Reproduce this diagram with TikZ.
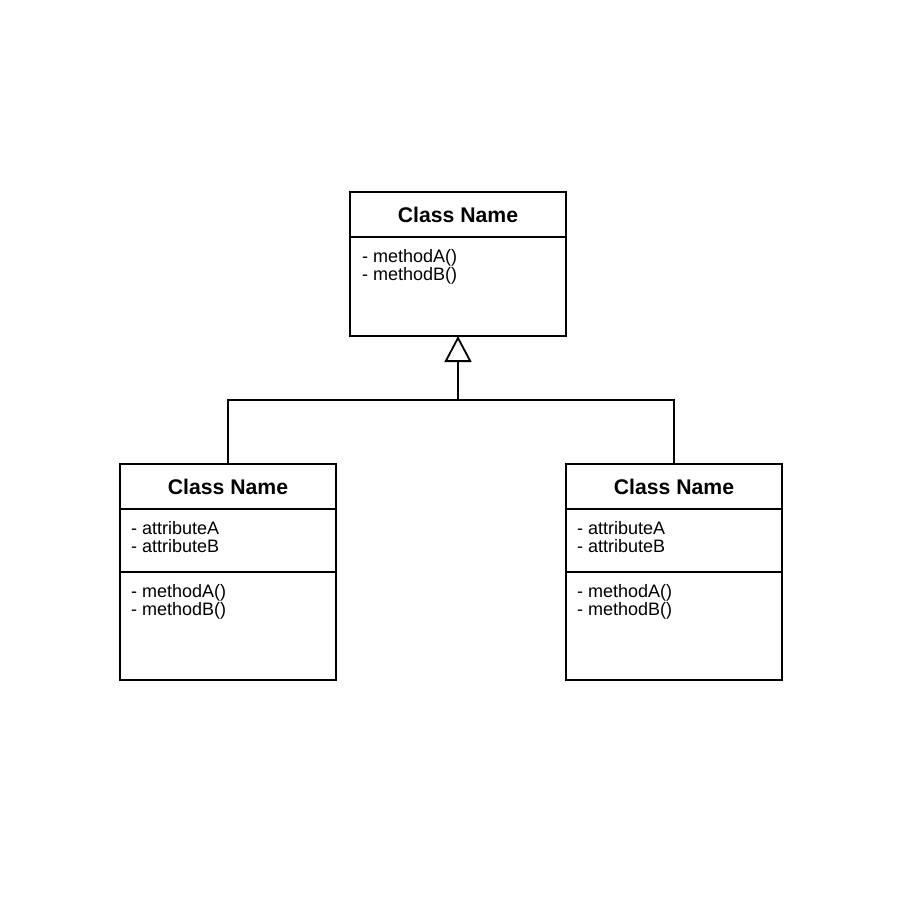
\documentclass[tikz,border=0pt]{standalone}
\usepackage{fontspec}
\setmainfont{Liberation Sans}
\usetikzlibrary{arrows.meta}
\begin{document}
\begin{tikzpicture}[x=1pt,y=-1pt,
  box/.style={draw=black,line width=1.8pt},
  title/.style={font=\fontsize{21.2}{24}\selectfont\bfseries,inner sep=0pt},
  members/.style={font=\fontsize{18}{18}\selectfont,align=left,anchor=north west,inner sep=0pt},
  link/.style={draw=black,line width=1.8pt},
  inherit/.style={link,-{Triangle[open,length=26pt,width=27pt,line width=1.8pt,fill=white]}}]
\useasboundingbox[fill=white] (0,0) rectangle (900,900);

% parent class
\draw[box] (350,192) rectangle (566,336);
\draw[box] (350,237) -- (566,237);
\node[title] (ptitle) at (458,215) {Class Name};
\node[members] (pmeth) at (362,249.5) {- methodA()\\- methodB()};
\coordinate (parent) at (458,336);

% left child
\draw[box] (120,464) rectangle (336,680);
\draw[box] (120,509) -- (336,509);
\draw[box] (120,572) -- (336,572);
\node[title] (ltitle) at (228,487) {Class Name};
\node[members] (lattr) at (131,521.5) {- attributeA\\- attributeB};
\node[members] (lmeth) at (131,584.5) {- methodA()\\- methodB()};
\coordinate (left) at (228,464);

% right child
\draw[box] (566,464) rectangle (782,680);
\draw[box] (566,509) -- (782,509);
\draw[box] (566,572) -- (782,572);
\node[title] (rtitle) at (674,487) {Class Name};
\node[members] (rattr) at (577,521.5) {- attributeA\\- attributeB};
\node[members] (rmeth) at (577,584.5) {- methodA()\\- methodB()};
\coordinate (right) at (674,464);

% generalisation
\coordinate (join) at (458,400);
\draw[link] (left) |- (join) -| (right);
\draw[inherit] (join) -- (parent);
\end{tikzpicture}
\end{document}
